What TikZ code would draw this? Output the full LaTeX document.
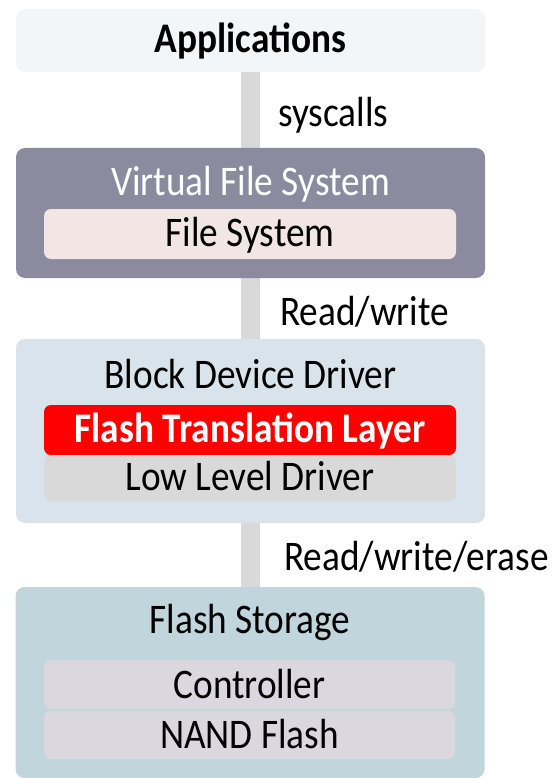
\documentclass[tikz,border=0pt]{standalone}
\usepackage{fontspec}
\setmainfont{Carlito}
\usepackage{graphicx}
% text is set slightly taller than wide
\newcommand\tallt[1]{\scalebox{1}[1.13]{#1}}
\definecolor{appc}{HTML}{F3F6F9}
\definecolor{vfsc}{HTML}{8C8A9E}
\definecolor{fsc}{HTML}{F2E6E4}
\definecolor{bddc}{HTML}{D9E3EC}
\definecolor{ftlc}{HTML}{FF0000}
\definecolor{lldc}{HTML}{D9D9D9}
\definecolor{fstc}{HTML}{C0D6DC}
\definecolor{partc}{HTML}{DAD8DE}
\definecolor{barc}{HTML}{D9D9D9}
\begin{document}
\begin{tikzpicture}[x=1pt,y=-1pt,
  panel/.style={draw=none, rounded corners=9pt, inner sep=0pt, outer sep=0pt, minimum width=469pt},
  part/.style={draw=none, rounded corners=7pt, inner sep=0pt, outer sep=0pt, minimum width=412pt},
  lbl/.style={inner sep=0pt, anchor=base, font=\fontsize{37.3}{44}\selectfont},
  side/.style={lbl, anchor=base west},
  bar/.style={line width=19pt, draw=barc}]
\useasboundingbox (0,0) rectangle (551,778);

% connectors between the layers (drawn first, behind the panels)
\coordinate (b1t) at (250.5,72);
\coordinate (b1b) at (250.5,148);
\coordinate (b2t) at (250.5,278);
\coordinate (b2b) at (250.5,339);
\coordinate (b3t) at (250.5,523);
\coordinate (b3b) at (250.5,587);
\draw[bar] (b1t) -- (b1b);
\draw[bar] (b2t) -- (b2b);
\draw[bar] (b3t) -- (b3b);

% layers
\node[panel, fill=appc, minimum height=63pt] (app) at (250.5,40.5) {};
\node[panel, fill=vfsc, minimum height=130pt] (vfs) at (250.5,213) {};
\node[panel, fill=bddc, minimum height=184pt] (bdd) at (250.5,431) {};
\node[panel, fill=fstc, minimum width=469pt, minimum height=191pt] (fst) at (250,682.5) {};

% inner parts
\node[part, fill=fsc, minimum height=50pt] (fs) at (250,234) {};
\node[part, fill=ftlc, minimum height=50pt] (ftl) at (250,430) {};
\node[part, fill=lldc, minimum height=46pt] (lld) at (250,478) {};
\node[part, fill=partc, minimum width=411pt, minimum height=49pt] (ctrl) at (249.5,684.5) {};
\node[part, fill=partc, minimum width=411pt, minimum height=48pt] (nand) at (249.5,735) {};

% texts
\node[lbl, font=\fontsize{37.3}{44}\selectfont\bfseries] (tapp) at (250.5,53) {\tallt{Applications}};
\node[lbl, text=white] (tvfs) at (250.5,195) {\tallt{Virtual File System}};
\node[lbl] (tfs) at (250,246) {\tallt{File System}};
\node[lbl] (tbdd) at (250.5,388) {\tallt{Block Device Driver}};
\node[lbl, text=white, font=\fontsize{37.3}{44}\selectfont\bfseries] (tftl) at (250,442) {\tallt{Flash Translation Layer}};
\node[lbl] (tlld) at (250,490) {\tallt{Low Level Driver}};
\node[lbl] (tfst) at (250,633) {\tallt{Flash Storage}};
\node[lbl] (tctrl) at (249.5,698) {\tallt{Controller}};
\node[lbl] (tnand) at (249.5,748) {\tallt{NAND Flash}};

% connector labels
\node[side] (l1) at (278,127) {\tallt{syscalls}};
\node[side] (l2) at (280,325) {\tallt{Read/write}};
\node[side] (l3) at (284,570) {\tallt{Read/write/erase}};
\end{tikzpicture}
\end{document}
